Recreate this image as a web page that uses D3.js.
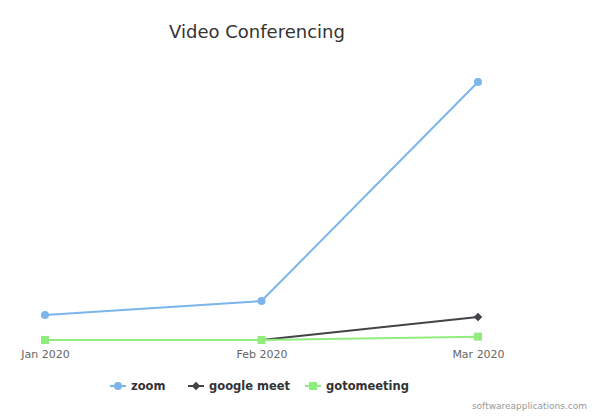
<!DOCTYPE html>
<html><head><meta charset="utf-8">
<script src="https://cdn.jsdelivr.net/npm/d3@7"></script>
<style>body{margin:0;background:#fff}svg{display:block}</style>
</head><body>
<svg id="c" width="600" height="419"></svg>
<script>
const categories = ["Jan 2020", "Feb 2020", "Mar 2020"];
const zoomValues = [9.7, 15.1, 100];
const meetValues = [0, 0, 8.9];
const gotoValues = [0, 0, 1.3];
const seriesNames = ["zoom", "google meet", "gotomeeting"];
const seriesColors = ["#7cb5ec", "#434348", "#90ed7d"];
const seriesSymbols = ["circle", "diamond", "square"];
const series = [zoomValues, meetValues, gotoValues];

const font = "'DejaVu Sans', 'Lucida Grande', sans-serif";
const svg = d3.select("#c");
const x = d3.scalePoint().domain(categories).range([45, 478]);
const y = d3.scaleLinear().domain([0, 100]).range([340, 82]);

svg.append("text").attr("x", 257).attr("y", 38).attr("text-anchor", "middle")
  .attr("font-family", font).attr("font-size", 18).attr("fill", "#333").text("Video Conferencing");

const ax = svg.append("g").attr("transform", "translate(0,340)")
  .call(d3.axisBottom(x).tickSize(0).tickPadding(10));
ax.select(".domain").remove();
ax.selectAll("text").attr("font-family", font).attr("font-size", 11).attr("fill", "#666").attr("dy", "0.71em");

const diamond = {draw(ctx, size) { const r = Math.sqrt(size) / 2 * 1.1;
  ctx.moveTo(0, -r); ctx.lineTo(r, 0); ctx.lineTo(0, r); ctx.lineTo(-r, 0); ctx.closePath(); }};
const symbolType = {circle: d3.symbolCircle, diamond: diamond, square: d3.symbolSquare};
const symbolSize = {circle: 50, diamond: 60, square: 64};
const line = d3.line().x((d, i) => x(categories[i])).y(d => y(d));

series.forEach((vals, si) => {
  const g = svg.append("g");
  g.append("path").attr("d", line(vals)).attr("fill", "none")
    .attr("stroke", seriesColors[si]).attr("stroke-width", 2);
  g.selectAll("path.m").data(vals).join("path").attr("class", "m")
    .attr("transform", (d, i) => `translate(${x(categories[i])},${y(d)})`)
    .attr("d", d3.symbol().type(symbolType[seriesSymbols[si]]).size(symbolSize[seriesSymbols[si]]))
    .attr("fill", seriesColors[si]);
});

const legendX = [118, 196, 313];
const lg = svg.append("g");
seriesNames.forEach((n, i) => {
  const gx = legendX[i];
  lg.append("line").attr("x1", gx - 8).attr("x2", gx + 8).attr("y1", 386).attr("y2", 386)
    .attr("stroke", seriesColors[i]).attr("stroke-width", 2);
  lg.append("path").attr("transform", `translate(${gx},386)`)
    .attr("d", d3.symbol().type(symbolType[seriesSymbols[i]]).size(symbolSize[seriesSymbols[i]]))
    .attr("fill", seriesColors[i]);
  lg.append("text").attr("x", gx + 13).attr("y", 390).attr("font-family", font)
    .attr("font-size", 11.5).attr("font-weight", "bold").attr("fill", "#333").text(n);
});

svg.append("text").attr("x", 587).attr("y", 409).attr("text-anchor", "end")
  .attr("font-family", font).attr("font-size", 9).attr("fill", "#999").text("softwareapplications.com");
</script>
</body></html>
